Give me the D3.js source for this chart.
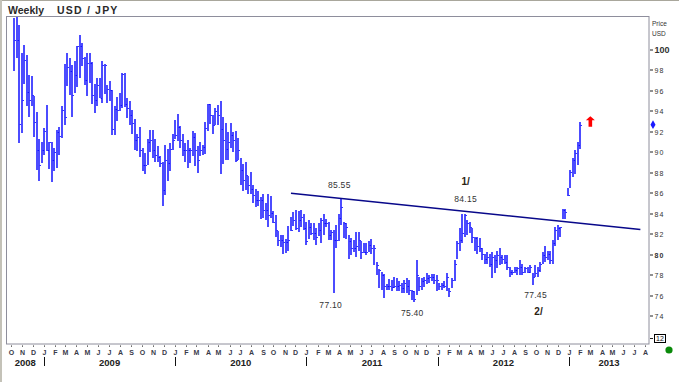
<!DOCTYPE html>
<html><head><meta charset="utf-8">
<script src="https://cdn.jsdelivr.net/npm/d3@7"></script>
<style>
html,body{margin:0;padding:0;background:#fff;}
svg{display:block;font-family:Arial,"Liberation Sans",sans-serif;}
</style></head><body>
<svg id="c" width="679" height="382"></svg>
<script>
// ---- data (weekly USD/JPY bars, first bar = week ending 2008-10-10) ----
const firstWeekEnd = "2008-10-10";
const highs = [
103.1,104.5,102.4,99.7,100.5,99.5,97.6,97.5,95.5,93.9,
91.3,91.0,92.4,94.6,91.0,91.0,90.4,92.2,92.5,94.5,
98.6,99.7,99.2,98.5,98.9,100.4,101.5,100.7,99.3,99.7,
99.7,98.8,96.7,97.3,97.3,98.9,98.6,96.6,97.0,96.1,
94.5,95.4,95.8,97.8,97.8,95.3,95.0,94.1,93.3,91.8,
92.5,90.4,89.9,91.3,92.2,92.2,91.3,90.6,89.6,89.1,
90.7,90.3,90.9,91.8,93.2,93.7,92.6,91.8,90.9,91.2,
90.4,92.1,91.9,90.6,91.0,90.7,93.0,94.7,94.7,93.6,
94.3,94.6,95.0,93.5,92.9,92.0,92.9,92.0,92.1,91.4,
89.4,88.9,89.1,87.7,88.1,86.8,86.4,86.2,85.6,85.9,
85.0,85.9,85.7,84.3,83.9,82.3,81.9,81.9,81.5,82.8,
83.7,84.2,84.4,84.3,
84.4,84.0,83.2,83.4,83.1,83.1,82.6,83.1,83.6,84.0,
83.5,83.2,82.4,82.4,82.9,84.0,85.5,83.2,83.1,81.9,
81.6,81.4,82.2,82.2,81.3,81.1,81.1,81.3,81.5,80.9,
79.3,78.6,78.3,78.1,77.1,77.6,77.5,77.8,77.7,77.4,
77.2,77.5,77.7,77.5,76.5,76.4,79.5,77.8,77.7,77.8,
78.2,78.0,78.1,78.1,78.0,77.2,
77.2,77.4,78.2,76.7,77.7,79.5,81.3,82.6,84.0,84.0,
83.4,83.2,82.6,81.7,81.7,81.6,80.6,80.1,80.3,80.1,
80.3,80.0,80.4,80.6,80.0,80.0,80.0,78.8,78.5,78.8,
78.8,79.5,79.1,78.8,78.8,79.0,78.2,79.0,78.8,79.3,
80.3,80.8,80.4,80.4,81.4,82.7,82.9,82.7,84.5,84.5,
86.5,88.3,89.4,90.2,91.0,93.0];
const lows = [
97.9,99.2,90.9,91.9,96.7,94.5,93.5,94.5,91.5,88.3,
87.2,89.0,89.7,90.1,88.4,87.1,88.2,88.5,89.7,91.4,
92.7,96.5,95.6,93.5,95.8,96.4,97.3,98.4,96.6,95.5,
96.8,94.7,93.8,94.5,95.3,94.8,95.7,94.8,95.0,91.7,
91.7,93.1,94.0,94.3,94.4,93.4,92.7,91.8,90.2,90.1,
89.5,88.2,87.9,88.8,90.0,89.4,89.1,89.1,88.6,84.8,
85.8,87.2,88.2,90.2,91.3,91.1,90.4,89.6,89.1,88.5,
89.0,89.6,88.7,88.0,89.6,89.7,89.8,92.1,92.8,91.8,
92.7,92.7,87.9,88.9,89.2,89.2,90.4,90.0,89.1,89.2,
86.8,86.2,86.3,85.9,85.9,85.0,84.7,84.8,83.5,83.6,
83.4,82.7,83.6,83.1,81.7,80.8,80.7,80.1,80.2,80.4,
82.3,82.8,82.4,82.2,
82.7,82.4,80.9,81.5,81.9,81.4,80.9,81.8,81.1,81.9,
82.7,81.4,81.4,76.2,80.6,81.3,82.9,81.6,81.5,79.6,
80.0,80.3,79.8,80.4,79.6,80.2,80.0,80.3,80.1,79.0,
78.0,76.7,76.5,75.8,76.5,76.5,76.4,76.7,76.4,76.4,
76.2,76.2,76.2,76.1,75.6,75.4,76.1,76.4,76.5,76.8,
77.1,77.2,77.4,77.1,76.4,76.5,
76.5,76.7,76.4,75.9,76.7,77.4,79.6,80.4,81.1,81.7,
81.9,82.1,81.1,80.4,80.1,80.3,79.5,79.1,79.1,78.8,
77.7,78.2,78.7,79.0,79.1,79.1,78.5,77.8,78.0,78.2,
78.0,78.0,78.0,78.2,78.2,78.2,77.0,77.8,77.8,78.3,
79.1,79.3,79.5,79.1,79.1,80.8,81.4,81.7,83.5,83.5,
85.7,86.5,87.6,87.9,88.8,90.3];
const closes = [
101.0,101.0,92.8,95.1,99.0,95.9,95.1,95.6,93.0,90.2,
88.8,90.2,92.1,90.2,91.0,89.2,90.0,92.0,91.6,94.1,
93.5,98.3,97.9,95.6,97.6,100.4,100.4,99.2,97.1,98.7,
98.7,95.6,95.1,96.6,95.3,98.5,98.5,96.2,96.1,92.3,
94.2,94.1,94.6,97.7,94.7,94.3,93.6,92.9,91.2,91.5,
90.2,88.8,88.8,91.0,91.2,90.2,89.7,89.5,89.0,86.3,
89.2,89.0,90.3,91.2,91.7,92.5,91.2,90.2,90.2,90.2,
90.2,91.5,90.2,89.2,90.2,90.5,92.4,94.7,93.6,92.7,
94.0,93.6,92.3,91.2,90.3,91.0,91.7,91.2,89.2,90.2,
88.3,87.3,87.8,86.8,86.4,85.8,85.3,85.3,85.3,84.4,
84.4,83.9,84.1,83.2,82.4,81.4,81.4,81.2,81.2,81.4,
82.4,83.4,82.6,83.4,
83.7,82.6,81.3,82.7,82.1,82.1,81.7,82.4,83.4,83.1,
83.1,81.9,82.2,81.4,81.4,83.6,84.7,83.1,82.7,81.3,
80.6,80.6,80.8,81.4,80.3,80.3,80.3,80.9,80.6,80.6,
79.0,78.5,78.0,76.9,76.9,76.9,76.8,76.9,76.9,77.0,
76.7,77.2,76.9,76.5,76.4,75.7,78.0,76.9,77.4,77.5,
77.7,77.8,77.8,77.5,77.5,76.9,
77.0,76.9,77.8,76.4,77.5,79.1,81.1,81.4,82.1,83.9,
83.1,82.7,81.7,81.6,80.8,80.6,80.1,79.6,79.8,79.1,
79.8,79.5,80.0,79.8,79.6,79.3,78.8,78.3,78.3,78.5,
78.7,78.8,78.3,78.7,78.3,78.8,77.8,78.2,78.5,79.1,
80.0,79.8,80.1,79.5,81.1,82.4,82.6,82.7,84.4,84.2,
85.8,88.1,89.2,89.9,90.7,92.7];

const priceTicks = [74,76,78,80,82,84,86,88,90,92,94,96,98,100];
const monthLetters = ["J","F","M","A","M","J","J","A","S","O","N","D"];
const years = [2008,2009,2010,2011,2012,2013];
const trendDates = ["2010-11-19","2013-07-18"];
const trendPrices = [86.0, 82.45];
const lastPrice = 92.7;
// labels: text, bar index (1-based), which side of bar
const annoTexts = ["85.55","77.10","75.40","84.15","1/","77.45","2/"];
const annoBars  = [131,128,160,180,180,207,207];
const annoSide  = ["high","low","low","high","high","low","low"];

// ---- layout ----
const svg = d3.select("#c");
const L = 6.5, T = 16.5, R = 649, B = 344;
const parse = d3.timeParse("%Y-%m-%d");
const x = d3.scaleTime()
  .domain([parse("2008-09-20"), parse("2013-08-11")])
  .range([L+0.5, R]);
const y = d3.scaleLinear().domain([100, 74]).range([50, 316]);

const d0 = parse(firstWeekEnd);
const bars = highs.map((h,i)=>({date:d3.timeWeek.offset(d0,i), h, l:lows[i], c:closes[i]}));

// outer window borders
svg.append("rect").attr("x",0).attr("y",0).attr("width",679).attr("height",382).attr("fill","#fff");
svg.append("rect").attr("x",0).attr("y",0).attr("width",679).attr("height",1).attr("fill","#a9a79c");
svg.append("rect").attr("x",0).attr("y",0).attr("width",2).attr("height",382).attr("fill","#c4c2b8");

// title
svg.append("text").attr("x",8).attr("y",13.5).attr("font-size",10.5).attr("font-weight","bold")
  .attr("fill","#2a2a2a").text("Weekly");
svg.append("text").attr("x",57).attr("y",13.5).attr("font-size",10.5).attr("font-weight","bold")
  .attr("letter-spacing",1.2).attr("fill","#2a2a2a").text("USD / JPY");

// clip
svg.append("clipPath").attr("id","pc").append("rect")
  .attr("x",L+0.5).attr("y",T+0.5).attr("width",R-L-1).attr("height",B-T-1);
const g = svg.append("g").attr("clip-path","url(#pc)");

// bars
const barCol = "#0000ff";
g.selectAll("rect.bar").data(bars).join("rect").attr("class","bar")
  .attr("x",d=>Math.round(x(d.date))-0.7).attr("width",1.4)
  .attr("y",d=>Math.round(y(d.h))).attr("height",d=>Math.max(1,Math.round(y(d.l))-Math.round(y(d.h))))
  .attr("fill",barCol);
g.selectAll("rect.cl").data(bars).join("rect").attr("class","cl")
  .attr("x",d=>Math.round(x(d.date))+0.7).attr("width",1.1)
  .attr("y",d=>Math.round(y(d.c))).attr("height",1)
  .attr("fill",barCol);

// trend line
svg.append("g").attr("clip-path","url(#pc)").append("line")
  .attr("x1",x(parse(trendDates[0]))).attr("y1",y(trendPrices[0]))
  .attr("x2",x(parse(trendDates[1]))).attr("y2",y(trendPrices[1]))
  .attr("stroke","#08088a").attr("stroke-width",1.6);

// frame
svg.append("rect").attr("x",L).attr("y",T).attr("width",R-L).attr("height",B-T)
  .attr("fill","none").attr("stroke","#8e8e9c").attr("stroke-width",1);

// right axis
const ax = svg.append("g");
priceTicks.forEach(p=>{
  const yy = Math.round(y(p));
  ax.append("rect").attr("x",R+1).attr("y",yy-0.5).attr("width",3).attr("height",1).attr("fill","#222");
  ax.append("text").attr("x",R+5.5).attr("y",yy+3)
    .attr("font-size", p===100?9:7).attr("font-weight", (p===100||p===80)?"bold":"normal")
    .attr("letter-spacing", p===100?0:1).attr("fill","#333").text(p);
});
ax.append("text").attr("x",R+3).attr("y",26).attr("font-size",6.5).attr("fill","#333").text("Price");
ax.append("text").attr("x",R+3).attr("y",36).attr("font-size",6.5).attr("fill","#333").text("USD");
// boxed bottom tick
ax.append("rect").attr("x",R+1).attr("y",Math.round(y(72))+2).attr("width",3).attr("height",1).attr("fill","#222");
ax.append("rect").attr("x",R+5.5).attr("y",Math.round(y(72))-1.5).attr("width",11).attr("height",8)
  .attr("fill","#fff").attr("stroke","#000").attr("stroke-width",1);
ax.append("text").attr("x",R+11).attr("y",Math.round(y(72))+5.3).attr("text-anchor","middle")
  .attr("font-size",7).attr("fill","#111").text("12");

// last price diamond
svg.append("path").attr("d",d3.symbol(d3.symbolDiamond,22)())
  .attr("transform",`translate(${R+4},${y(lastPrice)})`).attr("fill","#1a1aff");

// red arrow near last bar
const ax0 = x(bars[bars.length-1].date)+10, ay0 = y(lastPrice)-8;
svg.append("path")
  .attr("d",`M${ax0-4.5},${ay0+3.5} L${ax0-1.5},${ay0+0.8} L${ax0},${ay0-0.5} L${ax0+1.5},${ay0+0.8} L${ax0+4.5},${ay0+3.5} L${ax0+1.8},${ay0+3.5} L${ax0+1.8},${ay0+10} L${ax0-1.8},${ay0+10} L${ax0-1.8},${ay0+3.5} Z`)
  .attr("fill","#ff0000");

// green dot
svg.append("circle").attr("cx",669).attr("cy",350).attr("r",3.6).attr("fill","#0a8a0a");

// x axis months
const months = d3.timeMonth.range(parse("2008-10-01"), parse("2013-08-02"));
const mg = svg.append("g");
months.forEach(m=>{
  const xx = Math.round(x(m));
  mg.append("rect").attr("x",xx).attr("y",B+1.5).attr("width",1).attr("height",1.2).attr("fill","#333");
  mg.append("text").attr("x",xx+0.5).attr("y",B+10.5).attr("text-anchor","middle")
    .attr("font-size",7).attr("font-weight","bold").attr("fill","#3a3a4a")
    .text(monthLetters[m.getMonth()]);
});
// years
years.forEach(yr=>{
  const a = Math.max(x(new Date(yr,0,1)), L), b = Math.min(x(new Date(yr+1,0,1)), R);
  svg.append("text").attr("x",(a+b)/2).attr("y",366).attr("text-anchor","middle")
    .attr("font-size",9.5).attr("font-weight","bold").attr("fill","#222").text(yr);
  if (yr>2008) svg.append("rect").attr("x",Math.round(a)).attr("y",357).attr("width",1).attr("height",9).attr("fill","#111");
});

// annotations
const offs = {"85.55":[-2,-10],"77.10":[-3,15],"75.40":[-2,14],"84.15":[1,-12],"1/":[1,-29],"77.45":[3,13],"2/":[6,30]};
annoTexts.forEach((t,i)=>{
  const b = bars[annoBars[i]-1];
  const by = annoSide[i]==="high" ? y(b.h) : y(b.l);
  const o = offs[t];
  const big = t.endsWith("/");
  svg.append("text").attr("x",x(b.date)+o[0]).attr("y",by+o[1]).attr("text-anchor","middle")
    .attr("font-size",big?10:8.5).attr("font-weight",big?"bold":"normal")
    .attr("letter-spacing",big?0:0.3)
    .attr("fill",big?"#2b2313":"#333").text(t);
});
</script>
</body></html>
